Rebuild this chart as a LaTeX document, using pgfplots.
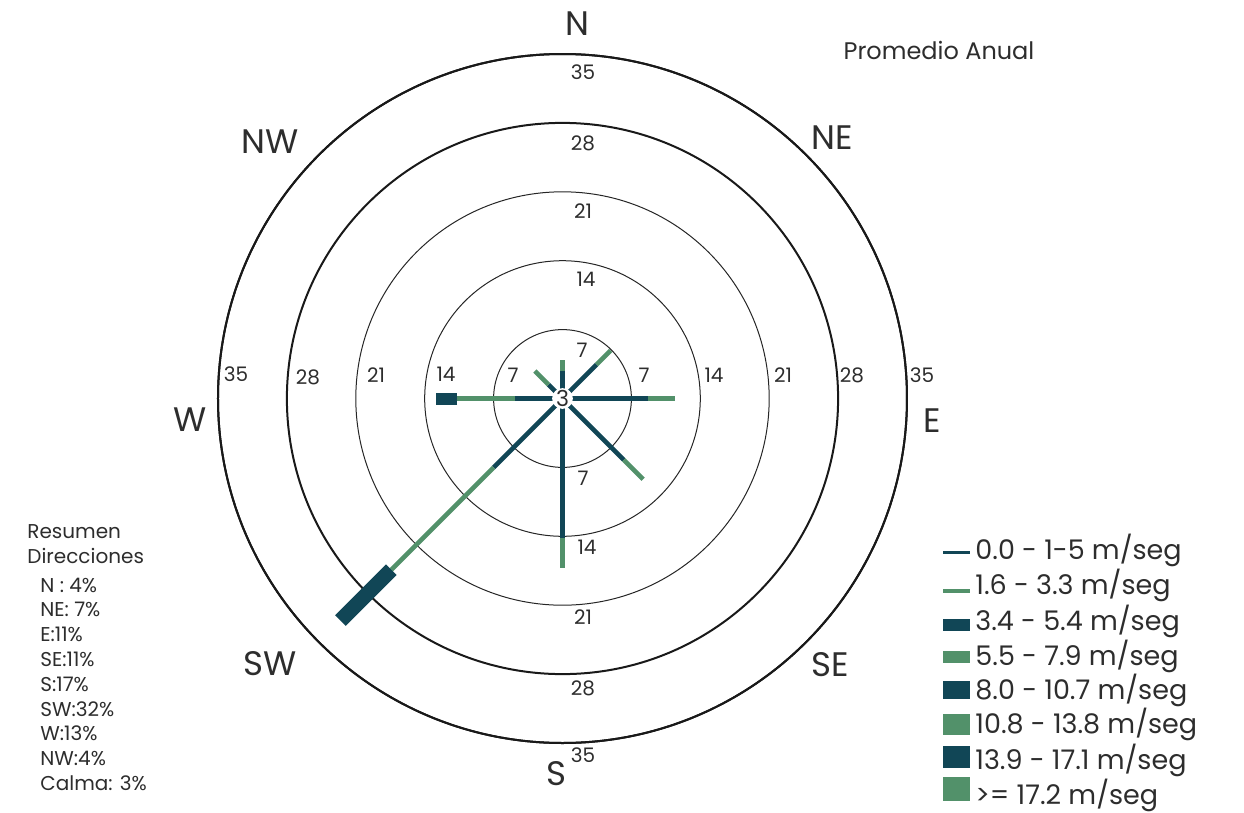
\documentclass[border=0pt]{standalone}
\usepackage{pgfplots}
\pgfplotsset{compat=1.18}
\usepgfplotslibrary{polar}
\usepackage{fontspec}
\setmainfont{Poppins}
\definecolor{vdark}{RGB}{17,70,86}
\definecolor{vgreen}{RGB}{82,145,106}
\definecolor{txt}{RGB}{45,45,45}
\newcommand{\fs}[1]{\fontsize{#1}{#1}\selectfont}

\begin{document}
\begin{tikzpicture}
% 1 px of the reference = 0.5pt; origin at the top-left corner
\begin{polaraxis}[
  at={(281.25pt,-199.25pt)}, anchor=center,
  scale only axis, width=344.5pt, height=344.5pt,
  ymin=0, ymax=35,
  xtick=\empty,
  ytick={28,35}, minor ytick={7,14,21},
  ymajorgrids, yminorgrids,
  major grid style={black!90, line width=1pt},
  minor grid style={black!85, line width=0.5pt},
  yticklabel=\empty,
  major tick length=0pt, minor tick length=0pt,
  x axis line style={black!90, line width=1pt},
  y axis line style={draw=none},
]
% N
\addplot[vdark, line width=2.3pt] coordinates {(90,0) (90,2.8)};
\addplot[vgreen, line width=2.3pt] coordinates {(90,2.8) (90,3.9)};
% NE
\addplot[vdark, line width=2.3pt] coordinates {(45,0) (45,4.9)};
\addplot[vgreen, line width=2.3pt] coordinates {(45,4.9) (45,6.9)};
% E
\addplot[vdark, line width=2.3pt] coordinates {(0,0) (0,8.7)};
\addplot[vgreen, line width=2.3pt] coordinates {(0,8.7) (0,11.4)};
% SE
\addplot[vdark, line width=2.3pt] coordinates {(315,0) (315,8.8)};
\addplot[vgreen, line width=2.3pt] coordinates {(315,8.8) (315,11.6)};
% S
\addplot[vdark, line width=2.3pt] coordinates {(270,0) (270,14.2)};
\addplot[vgreen, line width=2.3pt] coordinates {(270,14.2) (270,17.2)};
% SW
\addplot[vdark, line width=2.3pt] coordinates {(225,0) (225,9.9)};
\addplot[vgreen, line width=2.3pt] coordinates {(225,9.9) (225,24.6)};
\addplot[vdark, line width=7.5pt] coordinates {(225,24.6) (225,31.9)};
% W
\addplot[vdark, line width=2.3pt] coordinates {(180,0) (180,4.8)};
\addplot[vgreen, line width=2.3pt] coordinates {(180,4.8) (180,10.7)};
\addplot[vdark, line width=6pt] coordinates {(180,10.7) (180,12.9)};
% NW
\addplot[vdark, line width=2.3pt] coordinates {(135,0) (135,2.0)};
\addplot[vgreen, line width=2.3pt] coordinates {(135,2.0) (135,3.96)};
% calma
\node[circle, fill=white, inner sep=0pt, minimum size=9pt, text=txt, font=\fs{11pt}] at (axis cs:0,0) {3};
\end{polaraxis}

\begin{scope}[x=0.5pt,y=-0.5pt]
\useasboundingbox (0,0) rectangle (1244,813);
% ring labels
\begin{scope}[every node/.style={text=txt, font=\fs{10pt}, inner sep=0pt}]
\node at (236,374) {35};
\node at (308,377) {28};
\node at (376,375) {21};
\node at (446,374) {14};
\node at (513,375) {7};
\node at (644,375) {7};
\node at (714,375) {14};
\node at (783,375) {21};
\node at (852,375) {28};
\node at (922,375) {35};
\node at (583,72) {35};
\node at (583,143) {28};
\node at (583,211) {21};
\node at (586,279) {14};
\node at (582,350) {7};
\node at (583,478) {7};
\node at (587,547) {14};
\node at (583,617) {21};
\node at (583,688) {28};
\node at (583,755) {35};
\end{scope}

% direction labels
\begin{scope}[every node/.style={text=txt, font=\fs{17pt}, inner sep=0pt}]
\node at (577,24) {N};
\node at (832,138) {NE};
\node at (932,421) {E};
\node at (830,665) {SE};
\node at (556,774) {S};
\node at (270,664) {SW};
\node at (190,420) {W};
\node at (270,142) {NW};
\end{scope}

\node[text=txt, font=\fs{12pt}, inner sep=0pt] at (939,50) {Promedio Anual};

% summary
\begin{scope}[every node/.style={text=txt, font=\fs{10pt}, inner sep=0pt, anchor=base west}]
\node at (27,538) {Resumen};
\node at (27,563) {Direcciones};
\node at (40,592) {N : 4\%};
\node at (40,616) {NE: 7\%};
\node at (40,641) {E:11\%};
\node at (40,666) {SE:11\%};
\node at (40,691) {S:17\%};
\node at (40,716) {SW:32\%};
\node at (40,740) {W:13\%};
\node at (40,765) {NW:4\%};
\node at (40,790) {Calma: 3\%};
\end{scope}

% legend
\fill[vdark]  (943,551) rectangle (970,554);
\fill[vgreen] (943,589) rectangle (970,593);
\fill[vdark]  (943,619) rectangle (970,631);
\fill[vgreen] (943,651) rectangle (970,663);
\fill[vdark]  (943,681) rectangle (970,699);
\fill[vgreen] (943,714) rectangle (970,735);
\fill[vdark]  (943,746) rectangle (970,768);
\fill[vgreen] (943,777) rectangle (970,801);
\begin{scope}[every node/.style={text=txt, font=\fs{13.5pt}, inner sep=0pt, anchor=base west}]
\node at (975,559) {0.0 - 1-5 m/seg};
\node at (975,594) {1.6 - 3.3 m/seg};
\node at (975,630) {3.4 - 5.4 m/seg};
\node at (975,665) {5.5 - 7.9 m/seg};
\node at (975,699) {8.0 - 10.7 m/seg};
\node at (975,733) {10.8 - 13.8 m/seg};
\node at (975,769) {13.9 - 17.1 m/seg};
\node at (975,804) {>= 17.2 m/seg};
\end{scope}
\end{scope}
\end{tikzpicture}
\end{document}
